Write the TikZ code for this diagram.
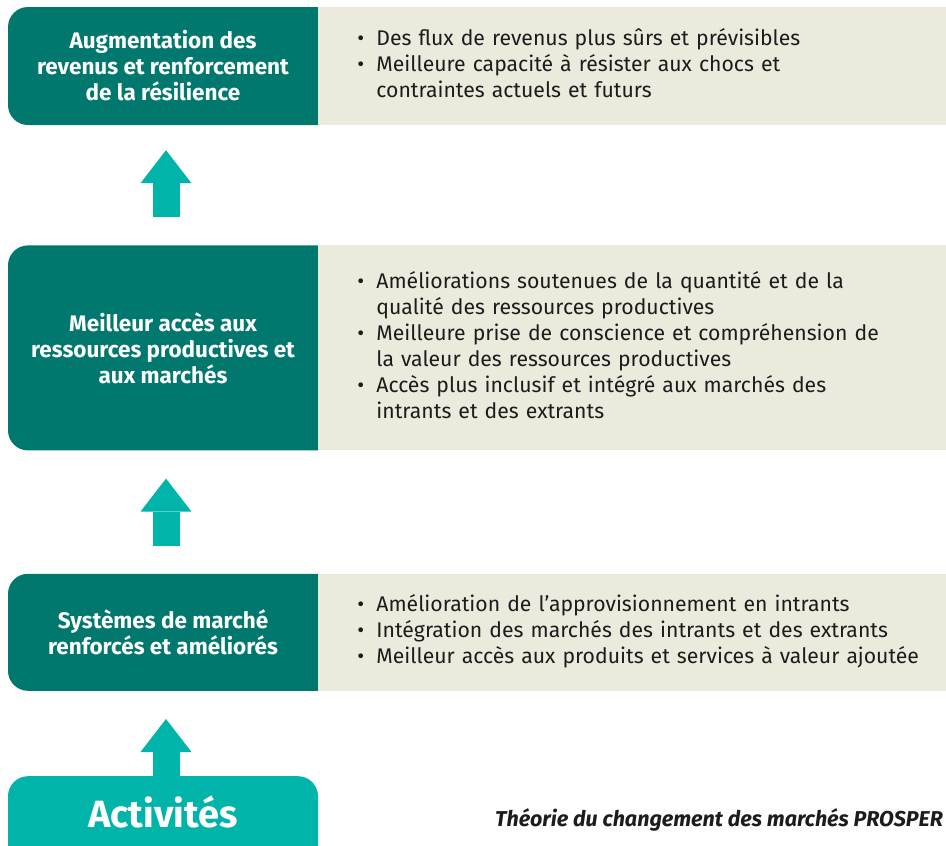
\documentclass[tikz,border=0pt]{standalone}
\usepackage{fontspec}
\setmainfont{Fira Sans}
\usepackage {tikz}
\usetikzlibrary {positioning}
\usetikzlibrary{arrows.meta}
\definecolor{tealf}{HTML}{00786E}
\definecolor{tealc}{HTML}{00B4AA}
\definecolor{beige}{HTML}{ECE9DD}
\definecolor{encre}{HTML}{1C1C1C}
\tikzset{
	etape/.style = {fill=white, text=white, inner sep=0pt, minimum width=310pt,
    font=\fontsize{22.5}{26}\selectfont\bfseries, align=center,
    path picture={\fill[tealf, rounded corners=20pt] (path picture bounding box.south west) rectangle ([xshift=30pt]path picture bounding box.north east);}},
    details/.style = {fill=beige, text=encre, inner sep=0pt, minimum width=628pt,
    text width=550pt, align=left, font=\fontsize{21.2}{26}\selectfont},
    fleche/.style = {draw=tealc, line width=27pt,
    -{Triangle[length=33pt,width=51pt,line width=0pt]}},
    activite/.style = {fill=white, text=white, inner sep=0pt, minimum width=310pt,
    minimum height=72pt, font=\fontsize{38}{44}\selectfont\bfseries,
    path picture={\fill[tealc, rounded corners=20pt] ([yshift=-30pt]path picture bounding box.south west) rectangle (path picture bounding box.north east);}},
    legende/.style = {text=encre, inner sep=0pt, font=\fontsize{21.5}{24}\selectfont\bfseries\itshape}}

\begin{document}
\begin{tikzpicture}[x=1pt, y=-1pt]
    \useasboundingbox (0,0) rectangle (946,846);
    \node[etape, minimum height=118pt] (E1) at (163,66) {Augmentation des\\revenus et renforcement\\de la résilience};
    \node[details, minimum height=118pt, right=0pt of E1] (D1) {\begin{tabular}{@{}p{19pt}@{}l@{}}
    \textbullet & Des flux de revenus plus sûrs et prévisibles\\
    \textbullet & Meilleure capacité à résister aux chocs et\\
     & contraintes actuels et futurs
    \end{tabular}};
    \node[etape, minimum height=205pt, below=120pt of E1] (E2) {Meilleur accès aux\\ressources productives et\\aux marchés};
    \node[details, minimum height=205pt, right=0pt of E2] (D2) {\begin{tabular}{@{}p{19pt}@{}l@{}}
    \textbullet & Améliorations soutenues de la quantité et de la\\
     & qualité des ressources productives\\
    \textbullet & Meilleure prise de conscience et compréhension de\\
     & la valeur des ressources productives\\
    \textbullet & Accès plus inclusif et intégré aux marchés des\\
     & intrants et des extrants
    \end{tabular}};
    \node[etape, minimum height=117pt, below=123pt of E2] (E3) {Systèmes de marché\\renforcés et améliorés};
    \node[details, minimum height=117pt, right=0pt of E3] (D3) {\begin{tabular}{@{}p{19pt}@{}l@{}}
    \textbullet & Amélioration de l’approvisionnement en intrants\\
    \textbullet & Intégration des marchés des intrants et des extrants\\
    \textbullet & Meilleur accès aux produits et services à valeur ajoutée
    \end{tabular}};
    \node[activite, below=85pt of E3] (A) {Activités};
    \node[legende, anchor=east] (T) at (943,820) {Théorie du changement des marchés PROSPER};
    \draw[fleche] ([xshift=3pt, yshift=28pt]E2.north) -- ([xshift=3pt, yshift=-25pt]E1.south);
    \draw[fleche] ([xshift=3pt, yshift=28pt]E3.north) -- ([xshift=3pt, yshift=-28pt]E2.south);
    \draw[fleche] ([xshift=3pt]A.north) -- ([xshift=3pt, yshift=-28pt]E3.south);
\end{tikzpicture}
\end{document}
